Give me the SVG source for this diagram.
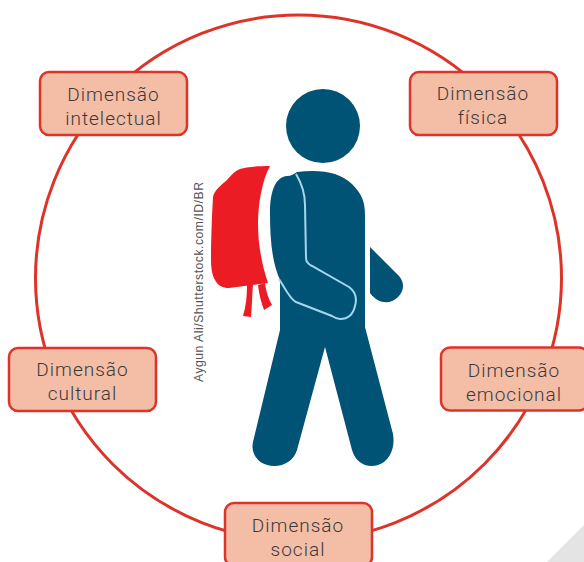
<svg xmlns="http://www.w3.org/2000/svg" width="584" height="562" viewBox="0 0 584 562">
<style>
.box{fill:#f3bda6;stroke:#de3329;stroke-width:2.5}
.lbl{font-family:"Roboto","Liberation Sans",sans-serif;font-weight:300;font-size:19px;letter-spacing:1px;fill:#3a3a3a;text-anchor:middle}
.body{fill:#005375}
.pack{fill:#ec1c24}
</style>
<rect width="584" height="562" fill="#fff"/>
<polygon points="584,525 584,562 547,562" fill="#e4e4e4"/>
<g id="connectors"><circle cx="298.500" cy="278" r="263" fill="none" stroke="#de3329" stroke-width="3"/></g>
<g id="figure">
<circle class="body" cx="323" cy="126" r="37"/>
<path class="pack" d="M270 166C258 166 246 167 240 169C234 171 230 177 227 180C220 186 214 191 213 197C212 215 211 240 211 260C211 270 213 277 215 280C218 286 223 288 229 288L268 283C262 265 258 245 258 223C258 205 262 180 270 166Z"/>
<path class="pack" d="M247 285L253 285C252 296 252 306 251 317L243 316C246 306 247 296 247 285Z"/>
<path class="pack" d="M258 285L265 283C266 291 268 298 272 305L264 310C261 302 259 294 258 285Z"/>
<path class="body" d="M297 172C320 169 340 172 352 184C362 194 365 202 365 215L365 327L393 434C396 452 386 466 372 466C362 466 355 460 352 450L325 347L297 450C294 460 285 466 274 466C260 466 250 455 253 442L280 330L280 280C272 262 270 240 270 213C270 190 276 177 287 176C291 176 294 174 297 172Z"/>
<path class="body" d="M370 247L399 276C405 283 404 291 398 297C390 305 378 304 370 293Z"/>
<path d="M296 174C302 184 305 194 305 205L306 258C306 262 308 264 312 266L349 287C356 292 357 299 355 306C353 315 348 319 340 319C337 319 335 318 332 316L296 302C292 300 290 296 287 292L279 279" fill="none" stroke="#a5d6ec" stroke-width="2"/>
</g>
<text id="credit" transform="translate(203,382) rotate(-90)" font-family="Liberation Sans,sans-serif" font-size="12.2" fill="#555" textLength="200" lengthAdjust="spacing">Aygun Ali/Shutterstock.com/ID/BR</text>
<g id="node-intelectual"><rect class="box" x="40" y="72" width="147" height="63" rx="9"/><text class="lbl" x="113.500" y="101">Dimensão</text><text class="lbl" x="113.500" y="125">intelectual</text></g>
<g id="node-fisica"><rect class="box" x="410" y="72" width="147" height="63" rx="9"/><text class="lbl" x="483" y="100">Dimensão</text><text class="lbl" x="483" y="124">física</text></g>
<g id="node-cultural"><rect class="box" x="9" y="348" width="147" height="63" rx="9"/><text class="lbl" x="82.500" y="376">Dimensão</text><text class="lbl" x="82.500" y="400">cultural</text></g>
<g id="node-emocional"><rect class="box" x="441" y="347.500" width="147" height="63" rx="9"/><text class="lbl" x="514" y="377">Dimensão</text><text class="lbl" x="514" y="401">emocional</text></g>
<g id="node-social"><rect class="box" x="225" y="503" width="147" height="63" rx="9"/><text class="lbl" x="298" y="532">Dimensão</text><text class="lbl" x="298" y="556">social</text></g>
</svg>
